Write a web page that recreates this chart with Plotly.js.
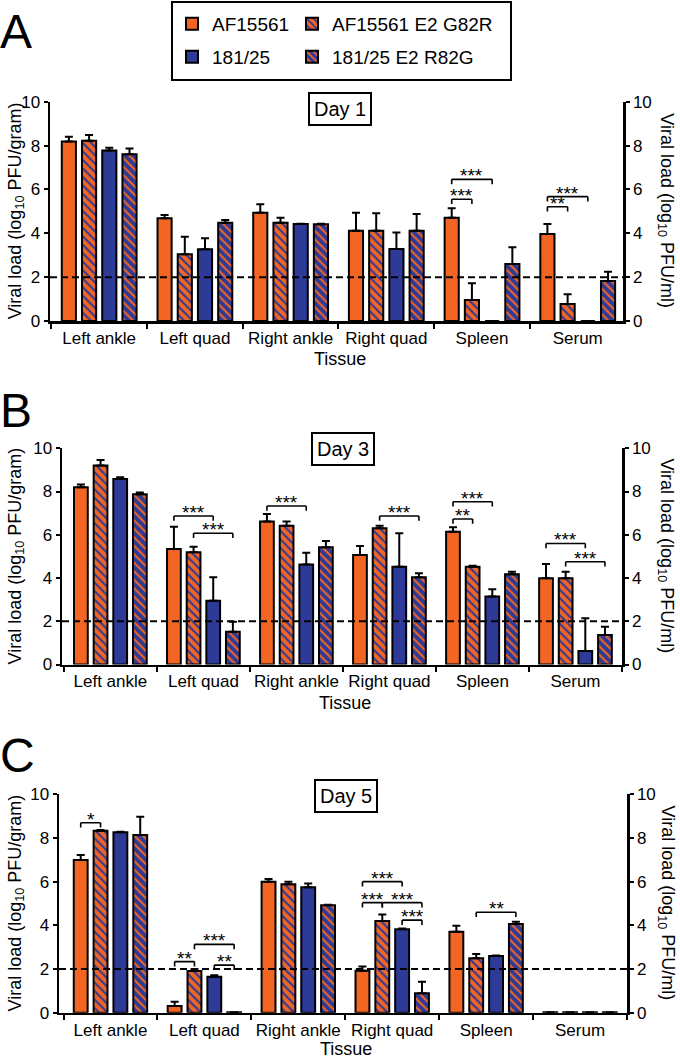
<!DOCTYPE html>
<html><head><meta charset="utf-8">
<script src="https://cdn.plot.ly/plotly-3.0.1.min.js"></script>
<style>html,body{margin:0;padding:0;background:#fff}</style>
</head><body><div id="chart" style="width:680px;height:1059px"></div>
<script>
const categories = ['Left ankle', 'Left quad', 'Right ankle', 'Right quad', 'Spleen', 'Serum'];
const seriesNames = ['AF15561', 'AF15561 E2 G82R', '181/25', '181/25 E2 R82G'];
const panelLabels = ['A', 'B', 'C'];
const dayLabels = ['Day 1', 'Day 3', 'Day 5'];
const yTicks = [0, 2, 4, 6, 8, 10];
const detectionLimit = 2;

// Day 1
const d1_AF15561 = [8.18, 4.68, 4.94, 4.12, 4.71, 3.97];
const d1_AF15561_err = [0.22, 0.15, 0.38, 0.82, 0.43, 0.45];
const d1_G82R = [8.22, 3.04, 4.48, 4.12, 0.96, 0.78];
const d1_G82R_err = [0.26, 0.80, 0.23, 0.79, 0.76, 0.44];
const d1_18125 = [7.77, 3.27, 4.42, 3.28, 0, 0];
const d1_18125_err = [0.13, 0.50, 0.02, 0.75, 0, 0];
const d1_R82G = [7.60, 4.48, 4.41, 4.12, 2.60, 1.82];
const d1_R82G_err = [0.27, 0.12, 0.03, 0.76, 0.76, 0.43];
// Day 3
const d3_AF15561 = [8.20, 5.34, 6.61, 5.06, 6.14, 3.99];
const d3_AF15561_err = [0.13, 1.03, 0.35, 0.42, 0.21, 0.66];
const d3_G82R = [9.21, 5.19, 6.42, 6.30, 4.52, 3.99];
const d3_G82R_err = [0.25, 0.26, 0.19, 0.12, 0.05, 0.30];
const d3_18125 = [8.58, 2.95, 4.63, 4.52, 3.14, 0.62];
const d3_18125_err = [0.08, 1.08, 0.54, 1.55, 0.34, 1.52];
const d3_R82G = [7.87, 1.52, 5.42, 4.03, 4.17, 1.36];
const d3_R82G_err = [0.08, 0.46, 0.29, 0.19, 0.12, 0.39];
// Day 5
const d5_AF15561 = [6.99, 0.31, 6.00, 1.92, 3.71, 0.02];
const d5_AF15561_err = [0.23, 0.19, 0.12, 0.19, 0.27, 0];
const d5_G82R = [8.33, 1.91, 5.88, 4.20, 2.49, 0.02];
const d5_G82R_err = [0.03, 0.08, 0.12, 0.30, 0.20, 0];
const d5_18125 = [8.26, 1.65, 5.74, 3.82, 2.60, 0.02];
const d5_18125_err = [0.02, 0.06, 0.18, 0.04, 0.02, 0];
const d5_R82G = [8.14, 0.02, 4.92, 0.89, 4.06, 0.02];
const d5_R82G_err = [0.83, 0, 0.02, 0.53, 0.11, 0];

// significance brackets: [panel, category index, series a, series b, level, label]
const brackets = [
  [0, 4, 0, 1, 5.55, '***'], [0, 4, 0, 2, 6.46, '***'],
  [0, 5, 0, 1, 5.21, '**'], [0, 5, 0, 2, 5.67, '***'],
  [1, 1, 0, 2, 6.87, '***'], [1, 1, 1, 3, 6.07, '***'],
  [1, 2, 0, 2, 7.33, '***'], [1, 3, 1, 3, 6.87, '***'],
  [1, 4, 0, 1, 6.73, '**'], [1, 4, 0, 2, 7.53, '***'],
  [1, 5, 0, 2, 5.60, '***'], [1, 5, 1, 3, 4.75, '***'],
  [2, 0, 0, 1, 8.70, '*'], [2, 1, 0, 1, 2.34, '**'],
  [2, 1, 1, 3, 3.13, '***'], [2, 1, 2, 3, 2.18, '**'],
  [2, 3, 0, 2, 6.00, '***'], [2, 3, 0, 1, 5.04, '***'],
  [2, 3, 1, 3, 5.04, '***'], [2, 3, 2, 3, 4.24, '***'],
  [2, 4, 1, 3, 4.60, '**']
];

const panels = [
  {vals: [d1_AF15561, d1_G82R, d1_18125, d1_R82G], errs: [d1_AF15561_err, d1_G82R_err, d1_18125_err, d1_R82G_err]},
  {vals: [d3_AF15561, d3_G82R, d3_18125, d3_R82G], errs: [d3_AF15561_err, d3_G82R_err, d3_18125_err, d3_R82G_err]},
  {vals: [d5_AF15561, d5_G82R, d5_18125, d5_R82G], errs: [d5_AF15561_err, d5_G82R_err, d5_18125_err, d5_R82G_err]}
];

const W = 680, H = 1059;
const ORANGE = '#F26522', BLUE = '#2E3A97';
const px = v => v / W, py = v => 1 - v / H;
// plot boxes in pixels: [left, right, top(10), bottom(0)]
const boxes = [[50, 623, 101.7, 321], [62, 622, 448.3, 664.5], [59, 627, 794.3, 1012.7]];
const xRanges = [[-0.514, 5.473], [-0.52, 5.5], [-0.548, 5.5]];
const tissueY = [359, 703, 1049];
const BARGAP = 0.155;
const offset = i => -(1 - BARGAP) / 2 + (1 - BARGAP) / 4 * (i + 0.5);

const styles = [
  {color: ORANGE},
  {color: ORANGE, pattern: {shape: '\\', bgcolor: ORANGE, fgcolor: BLUE, size: 6, solidity: 0.35}},
  {color: BLUE},
  {color: BLUE, pattern: {shape: '\\', bgcolor: BLUE, fgcolor: ORANGE, size: 6, solidity: 0.35}}
];
const legendIds = ['legend', 'legend2', 'legend3', 'legend4'];
const legendPos = [[172, 24], [292, 24], [172, 57], [292, 57]];

const FONT = 'Liberation Sans, Arial, sans-serif';
const traces = [];
panels.forEach((p, pi) => {
  const xa = pi === 0 ? 'x' : 'x' + (pi + 1);
  const ya = pi === 0 ? 'y' : 'y' + (pi + 1);
  p.vals.forEach((v, s) => {
    const marker = {color: styles[s].color, line: {color: '#000', width: 2}};
    if (styles[s].pattern) marker.pattern = styles[s].pattern;
    traces.push({
      type: 'bar', x: categories, y: v, name: seriesNames[s],
      xaxis: xa, yaxis: ya, marker: marker,
      error_y: {type: 'data', symmetric: false, array: p.errs[s], arrayminus: v.map(() => 0),
                color: '#000', thickness: 2, width: 4},
      showlegend: pi === 0, legend: legendIds[s],
      hoverinfo: 'skip'
    });
  });
  // invisible anchor trace so the right-hand axis is drawn
  traces.push({type: 'scatter', mode: 'markers', x: [categories[0]], y: [0], xaxis: xa, yaxis: 'y' + (pi + 4),
               marker: {opacity: 0}, showlegend: false, hoverinfo: 'skip'});
});

const layout = {
  width: W, height: H, margin: {l: 0, r: 0, t: 0, b: 0},
  paper_bgcolor: '#fff', plot_bgcolor: 'rgba(0,0,0,0)',
  font: {family: FONT, color: '#000', size: 17},
  barmode: 'group', bargap: BARGAP, bargroupgap: 0.3,
  shapes: [], annotations: []
};
legendIds.forEach((id, i) => {
  layout[id] = {orientation: 'h', x: px(legendPos[i][0]), xanchor: 'left', y: py(legendPos[i][1]), yanchor: 'middle',
                font: {size: 19}, bgcolor: 'rgba(0,0,0,0)', borderwidth: 0, itemclick: false};
});

boxes.forEach((b, pi) => {
  const n = pi === 0 ? '' : String(pi + 1);
  const xdom = [px(b[0]), px(b[1])];
  const ydom = [py(b[3]), py(b[2])];
  const axCommon = {showline: true, linecolor: '#000', linewidth: 2.5, ticks: 'outside', tickcolor: '#000',
                    tickwidth: 2, showgrid: false, zeroline: false, automargin: false, fixedrange: true,
                    tickfont: {size: 17, family: FONT, color: '#000'}};
  layout['xaxis' + n] = Object.assign({}, axCommon, {domain: xdom, range: xRanges[pi], type: 'category',
      anchor: 'y' + n, tickson: 'boundaries', ticklen: 5, tickangle: 0, categoryorder: 'array', categoryarray: categories});
  layout['yaxis' + n] = Object.assign({}, axCommon, {domain: ydom, range: [0, 10], anchor: 'x' + n,
      tickvals: yTicks, ticklen: 4});
  layout['yaxis' + (pi + 4)] = Object.assign({}, axCommon, {range: [0, 10], anchor: 'x' + n, overlaying: 'y' + n,
      side: 'right', tickvals: yTicks, ticklen: 4});
  // detection limit
  layout.shapes.push({type: 'line', xref: 'x' + n + ' domain', yref: 'y' + n, x0: 0, x1: 1,
      y0: detectionLimit, y1: detectionLimit, line: {color: '#000', width: 2, dash: '7px,4px'}});
  const cx = (b[0] + b[1]) / 2, cy = (b[2] + b[3]) / 2;
  // axis titles
  layout.annotations.push({xref: 'paper', yref: 'paper', x: px(16), y: py(cy), textangle: -90,
      text: 'Viral load (log<sub>10</sub> PFU/gram)', showarrow: false, font: {size: 18}, xanchor: 'center', yanchor: 'middle'});
  layout.annotations.push({xref: 'paper', yref: 'paper', x: px(666), y: py(cy - 1), textangle: 90,
      text: 'Viral load (log<sub>10</sub> PFU/ml)', showarrow: false, font: {size: 18}, xanchor: 'center', yanchor: 'middle'});
  layout.annotations.push({xref: 'paper', yref: 'paper', x: px(cx + 3), y: py(tissueY[pi]), text: 'Tissue',
      showarrow: false, font: {size: 18}, xanchor: 'center', yanchor: 'middle'});
  // panel letter
  layout.annotations.push({xref: 'paper', yref: 'paper', x: px(-2), y: py([31, 410, 755][pi]), text: panelLabels[pi],
      showarrow: false, font: {size: 48}, xanchor: 'left', yanchor: 'middle'});
  // day label box
  layout.annotations.push({xref: 'paper', yref: 'paper', x: px([340, 342.5, 345.5][pi]), y: py([109, 448.5, 796][pi]),
      text: dayLabels[pi], showarrow: false, font: {size: 20}, xanchor: 'center', yanchor: 'middle',
      bordercolor: '#000', borderwidth: 2, borderpad: 4, bgcolor: '#fff'});
});

const DROP = 0.22;
brackets.forEach(([pi, c, a, bb, lvl, lab]) => {
  const n = pi === 0 ? '' : String(pi + 1);
  const xa = c + offset(a), xb = c + offset(bb);
  const ln = {color: '#000', width: 1.6};
  const base = {type: 'line', xref: 'x' + n, yref: 'y' + n, line: ln};
  layout.shapes.push(Object.assign({}, base, {x0: xa, x1: xa, y0: lvl - DROP, y1: lvl}));
  layout.shapes.push(Object.assign({}, base, {x0: xa, x1: xb, y0: lvl, y1: lvl}));
  layout.shapes.push(Object.assign({}, base, {x0: xb, x1: xb, y0: lvl - DROP, y1: lvl}));
  layout.annotations.push({xref: 'x' + n, yref: 'y' + n, x: (xa + xb) / 2, y: lvl, text: lab, showarrow: false,
      font: {size: 19}, xanchor: 'center', yanchor: 'bottom', yshift: -9});
});

// legend frame
layout.shapes.push({type: 'rect', xref: 'paper', yref: 'paper', x0: px(172), x1: px(511), y0: py(80), y1: py(2),
    line: {color: '#000', width: 2}});

Plotly.newPlot('chart', traces, layout, {displayModeBar: false, staticPlot: true});
</script></body></html>
